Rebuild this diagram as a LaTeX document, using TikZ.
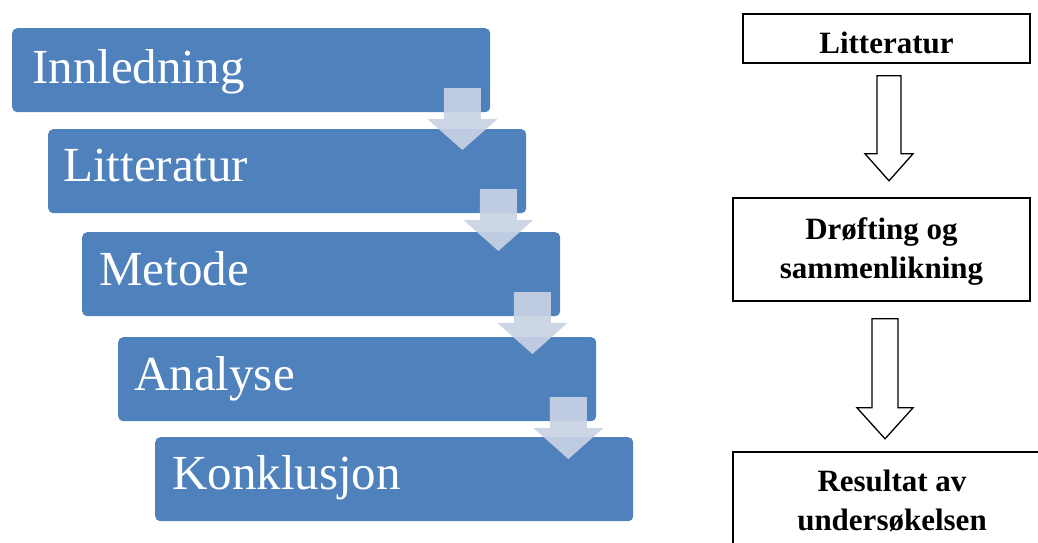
\documentclass[tikz,border=0pt]{standalone}
\usepackage{fontspec}
\setmainfont{Liberation Serif}
\usetikzlibrary{calc}
\definecolor{boxblue}{RGB}{79,129,189}
\definecolor{arrowfill}{RGB}{201,210,227}
\begin{document}
\begin{tikzpicture}[x=1pt,y=-1pt,
  stage/.style={fill=boxblue, rounded corners=5pt, minimum width=478pt, minimum height=84pt, anchor=north west, inner sep=0pt},
  stagetext/.style={anchor=base west, text=white, font=\fontsize{49}{50}\selectfont, inner sep=0pt},
  flowbox/.style={draw=black, line width=1.6pt, fill=white, inner sep=0pt},
  flowtext/.style={font=\fontsize{31}{39}\selectfont\bfseries, align=center, inner sep=0pt, anchor=base},
  lightarrow/.style={fill=arrowfill, fill opacity=0.92},
  blockarrow/.style={draw=black, line width=1.3pt, fill=white, line join=miter}]
\useasboundingbox (0,0) rectangle (1038,543);

% left stages
\node[stage] (s1) at (12,28) {};
\node[stage] (s2) at (48,129) {};
\node[stage] (s3) at (82,232) {};
\node[stage] (s4) at (118,337) {};
\node[stage] (s5) at (155,437) {};
\node[stagetext] (t1) at ($(s1.north west)+(20,55)$) {Innledning};
\node[stagetext] (t2) at ($(s2.north west)+(15,52)$) {Litteratur};
\node[stagetext] (t3) at ($(s3.north west)+(17,53)$) {Metode};
\node[stagetext] (t4) at ($(s4.north west)+(16,53)$) {Analyse};
\node[stagetext] (t5) at ($(s5.north west)+(17,52)$) {Konklusjon};

\foreach \a in {s1,s2,s3,s4}{
  \coordinate (ta\a) at ($(\a.north east)+(-28,60)$);
  \fill[lightarrow] (ta\a) ++(-18.5,0) -- ++(37,0) -- ++(0,31) -- ++(16.5,0)
     -- ++(-35,31) -- ++(-35,-31) -- ++(16.5,0) -- cycle;
}

% right flow
\node[flowbox, minimum width=287pt, minimum height=49pt] (r1) at (886.5,38.5) {};
\node[flowbox, minimum width=297pt, minimum height=103pt] (r2) at (881.5,249.5) {};
\node[flowbox, minimum width=318pt, minimum height=110pt] (r3) at (892,507) {};
\node[flowtext] (r1t) at (886.5,53) {Litteratur};
\node[flowtext] (r2t) at (881.5,278) {Drøfting og\\sammenlikning};
\node[flowtext] (r3t) at (892,530) {Resultat av\\undersøkelsen};

\draw[blockarrow] ($(r1.south)+(-9.5,12)$) -- ++(24,0) -- ++(0,78) -- ++(12,0)
   -- ++(-24,27) -- ++(-24,-27) -- ++(12,0) -- cycle;
\draw[blockarrow] ($(r2.south)+(-9.5,17)$) -- ++(26,0) -- ++(0,89) -- ++(15,0)
   -- ++(-28,31) -- ++(-28,-31) -- ++(15,0) -- cycle;
\end{tikzpicture}
\end{document}
